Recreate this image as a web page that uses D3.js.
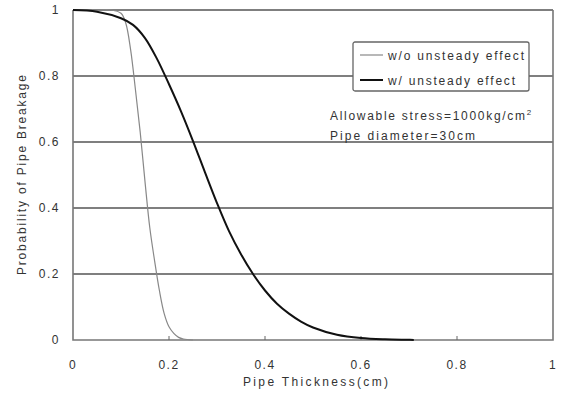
<!DOCTYPE html>
<html>
<head>
<meta charset="utf-8">
<script src="https://cdn.jsdelivr.net/npm/d3@7"></script>
<style>
    body { margin: 0; background: #fff; }
    svg text { font-family: "Liberation Sans", Arial, sans-serif; fill: #333; }
</style>
</head>
<body>
<div id="chart"></div>
<script>
// Breakage probability vs pipe thickness, two cases
const withoutX = [0, 0.05, 0.08, 0.1, 0.11, 0.12, 0.13, 0.14, 0.15, 0.16, 0.17, 0.18, 0.19, 0.2, 0.21, 0.22, 0.23, 0.25]
const withoutY = [1, 1, 1, 0.99, 0.96, 0.88, 0.76, 0.63, 0.48, 0.34, 0.24, 0.15, 0.08, 0.04, 0.02, 0.008, 0.003, 0]

const withX = [0, 0.05, 0.1, 0.125, 0.15, 0.175, 0.2, 0.225, 0.25, 0.275, 0.3, 0.325, 0.35, 0.375, 0.4, 0.425, 0.45, 0.475, 0.5, 0.55, 0.6, 0.65, 0.7, 0.71]
const withY = [1, 0.995, 0.975, 0.955, 0.915, 0.852, 0.775, 0.693, 0.603, 0.508, 0.415, 0.33, 0.26, 0.2, 0.15, 0.11, 0.08, 0.056, 0.038, 0.016, 0.006, 0.002, 0.0005, 0]

const xTicks = [0, 0.2, 0.4, 0.6, 0.8, 1]
const yTicks = [0, 0.2, 0.4, 0.6, 0.8, 1]

const seriesNames = ['w/o unsteady effect', 'w/ unsteady effect']

const margin = {top: 10, left: 73}

const svg = d3.select('#chart')
    .append('svg')
        .attr('width', 561)
        .attr('height', 394)
    .append('g')
        .attr('transform', `translate(${margin.left}, ${margin.top})`)

const x = d3.scaleLinear().domain([0, 1]).range([0, 480])
const y = d3.scaleLinear().domain([0, 1]).range([330, 0])

// gridlines
svg.selectAll('.grid')
    .data(yTicks.slice(1))
    .enter().append('line')
    .attr('x1', 0)
    .attr('x2', x(1))
    .attr('y1', d => y(d))
    .attr('y2', d => y(d))
    .attr('stroke', '#555')
    .attr('stroke-width', 1.3)

// plot frame (left, bottom, right)
svg.append('path')
    .attr('d', `M0,${y(1)}V${y(0)}H${x(1)}V${y(1)}`)
    .attr('fill', 'none')
    .attr('stroke', '#777')
    .attr('stroke-width', 1.6)

// small inward ticks on the x axis
svg.selectAll('.xtick')
    .data(xTicks.slice(1, -1))
    .enter().append('line')
    .attr('x1', d => x(d))
    .attr('x2', d => x(d))
    .attr('y1', y(0))
    .attr('y2', y(0) - 4)
    .attr('stroke', '#666')

svg.selectAll('.xlabel')
    .data(xTicks)
    .enter().append('text')
    .attr('x', d => x(d))
    .attr('y', y(0) + 29)
    .attr('text-anchor', 'middle')
    .attr('letter-spacing', 1.5)
    .style('font-size', '12px')
    .text(d => d)

svg.selectAll('.ylabel')
    .data(yTicks)
    .enter().append('text')
    .attr('x', -13)
    .attr('y', d => y(d) + 4)
    .attr('text-anchor', 'end')
    .attr('letter-spacing', 1.5)
    .style('font-size', '12px')
    .text(d => d)

// stretched text helper, the labels are set wide
const wideText = (g, str, px, len) => g.append('text')
    .attr('textLength', len)
    .attr('lengthAdjust', 'spacing')
    .style('font-size', px + 'px')
    .text(str)

wideText(svg, 'Pipe Thickness(cm)', 12, 145)
    .attr('x', 243 - margin.left)
    .attr('y', y(0) + 46)

wideText(svg, 'Probability of Pipe Breakage', 12, 200)
    .attr('transform', `translate(-47, ${y(0.5) + 100}) rotate(-90)`)

const line = d3.line()
    .curve(d3.curveCatmullRom.alpha(0.5))
    .x(d => x(d[0]))
    .y(d => y(d[1]))

svg.append('path')
    .attr('d', line(withoutX.map((v, i) => [v, withoutY[i]])))
    .attr('fill', 'none')
    .attr('stroke', '#888')
    .attr('stroke-width', 1.2)

svg.append('path')
    .attr('d', line(withX.map((v, i) => [v, withY[i]])))
    .attr('fill', 'none')
    .attr('stroke', '#111')
    .attr('stroke-width', 2)

// legend
const legend = svg.append('g').attr('transform', `translate(${353 - margin.left}, ${42 - margin.top})`)
legend.append('rect')
    .attr('width', 176)
    .attr('height', 49)
    .attr('rx', 2)
    .attr('fill', '#fff')
    .attr('stroke', '#666')
    .attr('stroke-width', 1.3)

const legendColors = ['#888', '#111']
const legendWidths = [1.2, 2]
const legendLengths = [136, 127]
seriesNames.forEach((name, i) => {
    legend.append('line')
        .attr('x1', 7)
        .attr('x2', 30)
        .attr('y1', 13 + i * 25)
        .attr('y2', 13 + i * 25)
        .attr('stroke', legendColors[i])
        .attr('stroke-width', legendWidths[i])
    wideText(legend, name, 12, legendLengths[i])
        .attr('x', 35)
        .attr('y', 18 + i * 25)
})

const note = svg.append('text')
    .attr('x', 330 - margin.left)
    .attr('y', 120 - margin.top)
    .style('font-size', '12px')
note.append('tspan')
    .attr('textLength', 195)
    .attr('lengthAdjust', 'spacing')
    .text('Allowable stress=1000kg/cm')
note.append('tspan').attr('dy', -5).style('font-size', '8px').text('2')

wideText(svg, 'Pipe diameter=30cm', 12, 145)
    .attr('x', 330 - margin.left)
    .attr('y', 140 - margin.top)
</script>
</body>
</html>
